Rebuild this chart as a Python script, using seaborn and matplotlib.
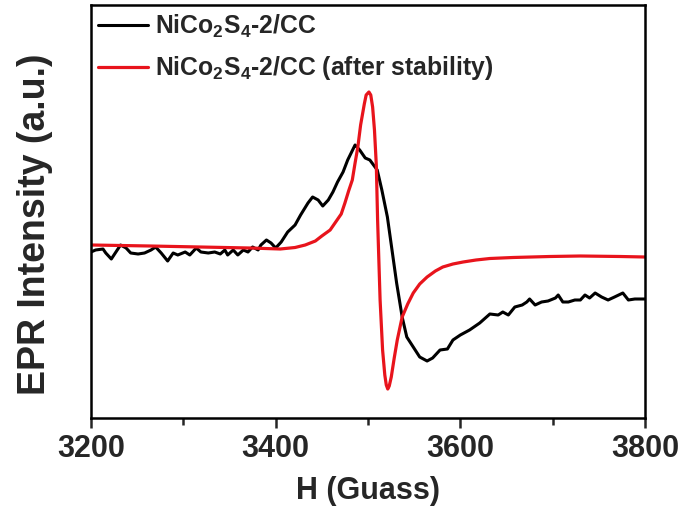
import matplotlib
matplotlib.use("Agg")
import matplotlib.pyplot as plt
from matplotlib import font_manager as fm
from matplotlib.ticker import MultipleLocator
import seaborn as sns
import pandas as pd

# ---- data ----
black_H = [3200, 3205, 3213, 3216, 3222, 3227, 3232, 3238, 3243, 3251, 3258, 3265,
           3270, 3276, 3283, 3289, 3294, 3302, 3307, 3314, 3319, 3327, 3334, 3340,
           3345, 3348, 3354, 3359, 3365, 3370, 3375, 3381, 3384, 3390, 3395, 3400,
           3406, 3413, 3421, 3427, 3435, 3440, 3446, 3451, 3457, 3462, 3467, 3473,
           3478, 3486, 3491, 3497, 3502, 3510, 3515, 3521, 3526, 3531, 3537, 3542,
           3549, 3556, 3564, 3570, 3578, 3586, 3592, 3600, 3610, 3621, 3632, 3641,
           3646, 3652, 3659, 3667, 3672, 3675, 3681, 3688, 3695, 3703, 3706, 3711,
           3717, 3724, 3730, 3735, 3740, 3746, 3753, 3760, 3767, 3776, 3782, 3789,
           3800]
black_I = [-2, 0, 1, -3, -9, -2, 5, 2, -3, -4, -3, 0,
           3, -3, -11, -3, -5, -2, -5, 2, -2, -3, -2, -4,
           0, -5, 0, -5, 0, -2, 3, 0, 5, 10, 7, 2,
           8, 18, 25, 35, 47, 53, 50, 44, 50, 58, 68, 78,
           90, 105, 100, 92, 90, 80, 60, 33, 0, -33, -67, -87,
           -97, -107, -111, -108, -100, -99, -90, -85, -80, -73, -64, -65,
           -62, -65, -57, -55, -52, -49, -55, -52, -51, -48, -45, -52,
           -52, -50, -50, -45, -48, -43, -47, -50, -47, -43, -50, -49,
           -49]

red_H = [3200, 3264, 3318, 3372, 3405, 3421, 3432, 3443, 3450, 3459, 3465, 3471,
         3475, 3479, 3483, 3486, 3489, 3492, 3496, 3498, 3501, 3503, 3505, 3507,
         3509, 3510.4, 3513.1, 3515.8, 3518.2, 3519.8, 3521.4, 3523, 3525.2, 3528.4,
         3531.7, 3537, 3543, 3549, 3556, 3564, 3573, 3581, 3592, 3603, 3617, 3632,
         3657, 3697, 3730, 3773, 3800]
red_I = [5, 4, 3, 2, 1, 2.5, 5, 9, 14, 20, 28, 36,
         47, 59, 70, 87, 103, 125, 146, 155, 158, 155, 143, 120,
         85, 30, -50, -100, -125, -135, -139, -136, -127, -108,
         -90, -67, -54, -43, -34, -27, -21, -17, -14, -12, -10, -8.5,
         -7.5, -6.5, -6, -6.5, -7]

labels = [r"NiCo$_\mathbf{2}$S$_\mathbf{4}$-2/CC",
          r"NiCo$_\mathbf{2}$S$_\mathbf{4}$-2/CC (after stability)"]
colors = ["#000000", "#e8141c"]
x_ticks = [3200, 3400, 3600, 3800]

# ---- style ----
sns.set_style("ticks")
names = {f.name for f in fm.fontManager.ttflist}
narrow = "Liberation Sans Narrow" in names
fam = "Liberation Sans Narrow" if narrow else "Liberation Sans"
plt.rcParams["font.family"] = [fam, "DejaVu Sans"]
plt.rcParams["font.weight"] = "bold"
plt.rcParams["mathtext.fontset"] = "custom"
plt.rcParams["mathtext.bf"] = fam + ":bold"
plt.rcParams["mathtext.rm"] = fam + ":bold"
plt.rcParams["mathtext.default"] = "bf"

tick_fs = 25 if narrow else 22
xlab_fs = 26 if narrow else 22
leg_fs = 20 if narrow else 17.8

fig = plt.figure(figsize=(6.91, 5.15), dpi=100)
ax = fig.add_axes([91 / 691, 97 / 515, 554 / 691, 413 / 515])

df_b = pd.DataFrame({"H": black_H, "I": black_I})
df_r = pd.DataFrame({"H": red_H, "I": red_I})
sns.lineplot(data=df_b, x="H", y="I", ax=ax, color=colors[0], lw=2.2,
             estimator=None, sort=False, label=labels[0])
sns.lineplot(data=df_r, x="H", y="I", ax=ax, color=colors[1], lw=2.3,
             estimator=None, sort=False, label=labels[1])

ax.set_xlim(3200, 3800)
ax.set_ylim(-168, 245)
ax.set_xticks(x_ticks)
ax.xaxis.set_minor_locator(MultipleLocator(100))
ax.set_yticks([])
ax.tick_params(axis="x", which="major", length=7.5, width=1.8, direction="out",
               labelsize=tick_fs, pad=4)
ax.tick_params(axis="x", which="minor", length=5, width=1.8, direction="out")
for lab in ax.get_xticklabels():
    lab.set_fontweight("bold")
for sp in ax.spines.values():
    sp.set_linewidth(1.8)
    sp.set_color("black")

ax.set_xlabel("H (Guass)", fontsize=xlab_fs, fontweight="bold", labelpad=9)
ax.set_ylabel("EPR Intensity (a.u.)", fontsize=27, fontweight="bold",
              family=["Liberation Sans", "DejaVu Sans"])
ax.yaxis.set_label_coords(-0.068, 0.47)

leg = ax.legend(loc="upper left", bbox_to_anchor=(0, 1), borderaxespad=0.1,
                frameon=False, fontsize=leg_fs, handlelength=2.0,
                handletextpad=0.3, labelspacing=0.6, borderpad=0.2)
for t in leg.get_texts():
    t.set_fontweight("bold")

fig.savefig("out.png", dpi=100, facecolor="white")
